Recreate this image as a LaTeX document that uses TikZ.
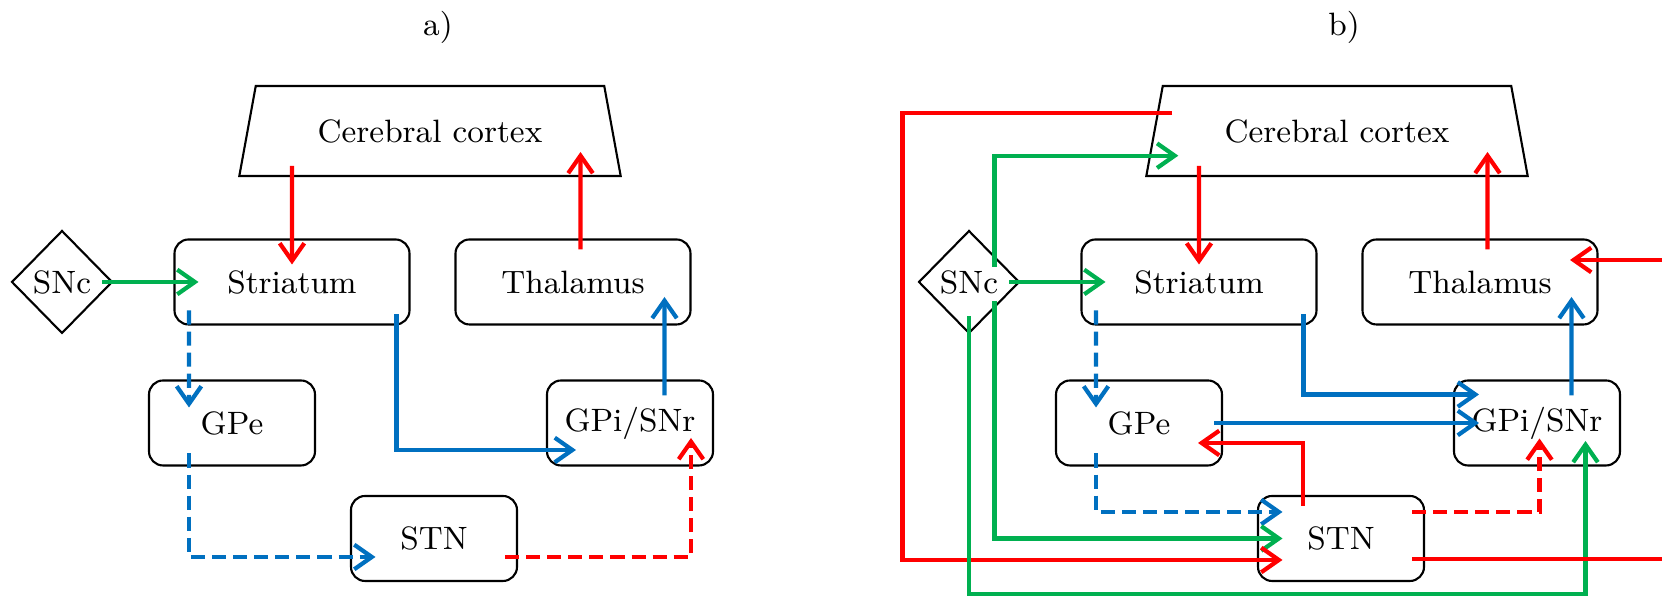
\documentclass[tikz,border=0pt]{standalone}
\usetikzlibrary{shapes.geometric,arrows.meta}
\definecolor{pblue}{RGB}{0,112,192}
\definecolor{pgreen}{RGB}{0,176,80}
\begin{document}
\begin{tikzpicture}[font=\fontsize{9.2}{11}\selectfont,
    box/.style={draw,rounded corners=4pt,line width=0.6pt,outer sep=0pt,minimum height=0.85cm},
    wide/.style={box,minimum width=2.35cm},
    narrow/.style={box,minimum width=1.66cm},
    link/.style={line width=1.2pt,-{Straight Barb[length=5pt,width=7pt]}},
    exc/.style={link,draw=red},
    inh/.style={link,draw=pblue},
    dop/.style={link,draw=pgreen},
    dashline/.style={dash pattern=on 4pt off 2pt}]
    \useasboundingbox (0,0) rectangle (16.62,5.96);
    \def\basalnodes{
        \node[trapezium,draw,line width=0.6pt,outer sep=0pt,trapezium left angle=76,trapezium right angle=76,
              trapezium stretches=true,minimum width=3.83cm,minimum height=0.9cm] (ctx) at (4.30,4.65) {Cerebral cortex};
        \node[wide] (str) at (2.92,3.14) {Striatum};
        \node[wide] (thal) at (5.73,3.14) {Thalamus};
        \node[diamond,draw,line width=0.6pt,outer sep=0pt,inner sep=1pt,minimum width=1cm,minimum height=1.02cm] (snc) at (0.62,3.14) {SNc};
        \node[narrow] (gpe) at (2.32,1.73) {GPe};
        \node[narrow] (gpi) at (6.30,1.73) {GPi/SNr};
        \node[narrow] (stn) at (4.34,0.575) {STN};
        \draw[exc] ([xshift=-13.8mm,yshift=1mm]ctx.south) -- ([yshift=-2.5mm]str.north);
        \draw[exc] ([xshift=.75mm,yshift=-1mm]thal.north) -- ([xshift=15.05mm,yshift=2.4mm]ctx.south);
        \draw[dop] ([xshift=-1mm]snc.east) -- ([xshift=2.4mm]str.west);
        \draw[inh,dashline] ([xshift=1.45mm,yshift=1.4mm]str.south west) -- ([xshift=4mm,yshift=-2.7mm]gpe.north west);
        \draw[inh] ([xshift=3.45mm,yshift=-1.5mm]gpi.north) -- ([xshift=9.15mm,yshift=2.75mm]thal.south);
    }
    % a) direct and indirect pathways
    \begin{scope}[name prefix=a-]
        \node (title) at (4.38,5.69) {a)};
        \basalnodes
        \draw[inh] ([xshift=-1.3mm,yshift=1mm]str.south east) |- ([xshift=2.9mm,yshift=-2.7mm]gpi.west);
        \draw[inh,dashline] ([xshift=4mm,yshift=1.2mm]gpe.south west) |- ([xshift=2.45mm,yshift=-1.85mm]stn.west);
        \draw[exc,dashline] ([xshift=-1.2mm,yshift=-1.85mm]stn.east) -| ([xshift=6.1mm,yshift=2.75mm]gpi.south);
    \end{scope}
    % b) with hyperdirect pathway and feedback loops
    \begin{scope}[xshift=9.07cm,name prefix=b-]
        \node (title) at (4.37,5.69) {b)};
        \basalnodes
        \draw[inh] ([xshift=-1.3mm,yshift=1mm]str.south east) |- ([xshift=2.5mm,yshift=2.85mm]gpi.west);
        \draw[inh] ([xshift=-.8mm]gpe.east) -- ([xshift=2.5mm]gpi.west);
        \draw[exc] ([xshift=-3.8mm,yshift=-1mm]stn.north) |- ([xshift=-2.4mm,yshift=-2mm]gpe.east);
        \draw[inh,dashline] ([xshift=4mm,yshift=1.2mm]gpe.south west) |- ([xshift=2.45mm,yshift=2.65mm]stn.west);
        \draw[dop] ([xshift=2.55mm,yshift=-1.9mm]snc.center) |- ([xshift=2.45mm]stn.west);
        \draw[dop] ([xshift=2.55mm,yshift=1.5mm]snc.center) |- ([xshift=-15.87mm,yshift=2.03mm]ctx.south);
        \draw[exc] ([xshift=-16.5mm,yshift=1.8mm]ctx.center) -| ([xshift=-1.66mm]snc.west) |- ([xshift=2.45mm,yshift=-2.15mm]stn.west);
        \draw[dop] ([yshift=-3.45mm]snc.center) |- ([yshift=-1.3mm]stn.south) -| ([xshift=4.85mm,yshift=2.45mm]gpi.south);
        \draw[exc,dashline] ([xshift=-1.2mm,yshift=2.65mm]stn.east) -| ([xshift=.25mm,yshift=2.7mm]gpi.south);
        \draw[exc] ([xshift=-1.2mm,yshift=-2.05mm]stn.east) -| ([xshift=8.3mm]thal.east) |- ([xshift=-2.75mm,yshift=2.2mm]thal.east);
    \end{scope}
\end{tikzpicture}
\end{document}
